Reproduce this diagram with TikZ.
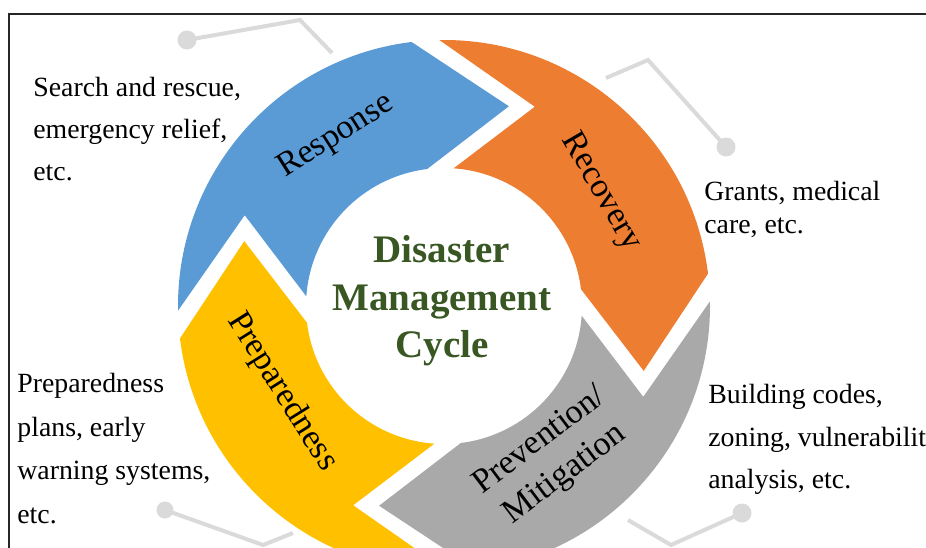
\documentclass[tikz,border=0pt]{standalone}
\usepackage{fontspec}
\setmainfont{Liberation Serif}

\definecolor{respblue}{HTML}{5B9BD5}
\definecolor{recorange}{HTML}{ED7D31}
\definecolor{prevgrey}{HTML}{A9A9A9}
\definecolor{prepyellow}{HTML}{FFC000}
\definecolor{titlegreen}{HTML}{385723}
\definecolor{decogrey}{HTML}{DADADA}

\tikzset{
    title/.style={font=\fontsize{19.5}{23.7}\selectfont\bfseries, text=titlegreen,
        align=center, inner sep=0pt},
    phase/.style={font=\fontsize{17}{21}\selectfont, align=center, inner sep=0pt},
    note/.style={font=\fontsize{13.9}{#1}\selectfont, align=left,
        anchor=north west, inner sep=0pt},
    gline/.style={draw=decogrey, line width=2pt},
    gdot/.style={circle, fill=decogrey, inner sep=0pt, minimum size=9.5pt}
}

\begin{document}
\begin{tikzpicture}[x=0.5pt, y=0.5pt]
    \useasboundingbox (-444,-241) rectangle (482,306);
    \clip (-444,-241) rectangle (482,306);
    % frame
    \draw[line width=1.3pt, black!85] (-435,-260) -- (-435,292) -- (500,292);

    % grey connectors
    \node[gdot] (dotresp) at (-257,266) {};
    \coordinate (kinkresp) at (-144,286);
    \coordinate (endresp) at (-112,253);
    \draw[gline] (dotresp.center) -- (kinkresp) -- (endresp);

    \coordinate (endreco) at (162,228);
    \coordinate (kinkreco) at (204,246);
    \node[gdot] (dotreco) at (282,159) {};
    \draw[gline] (endreco) -- (kinkreco) -- (dotreco.center);

    \node[gdot, minimum size=8.5pt] (dotprep) at (-279,-204) {};
    \coordinate (kinkprep) at (-181,-239);
    \coordinate (endprep) at (-151,-227);
    \draw[gline] (dotprep.center) -- (kinkprep) -- (endprep);

    \coordinate (endprev) at (184,-214);
    \coordinate (kinkprev) at (227,-239);
    \node[gdot] (dotprev) at (298,-207) {};
    \draw[gline] (endprev) -- (kinkprev) -- (dotprev.center);

    % ring of arrows
    \foreach \turn/\phasecol in {0/respblue, -90/recorange, -180/prevgrey, -270/prepyellow}
        \fill[\phasecol, rotate=\turn] (181:266)
            arc[start angle=181, end angle=97, radius=266]
            -- (72:210) -- (97:138)
            arc[start angle=97, end angle=176, radius=138]
            -- (155.5:219) -- cycle;

    \node[phase, rotate=32.5] (response) at (122.5:201) {Response};
    \node[phase, rotate=-60] (recovery) at (36:194) {Recovery};
    \node[phase, rotate=37] (prevention) at (-54.4:187) {Prevention/\\Mitigation};
    \node[phase, rotate=-58] (preparedness) at (208:183) {Preparedness};

    \node[title] (cycle) at (-2,5) {Disaster\\Management\\Cycle};

    % notes
    \node[note=21] (respnote) at (-411,229) {Search and rescue,\\emergency relief,\\etc.};
    \node[note=16.5] (reconote) at (260,125) {Grants, medical\\care, etc.};
    \node[note=21.25] (prevnote) at (264,-78) {Building codes,\\zoning, vulnerability\\analysis, etc.};
    \node[note=21.75] (prepnote) at (-427,-67) {Preparedness\\plans, early\\warning systems,\\etc.};
\end{tikzpicture}
\end{document}
